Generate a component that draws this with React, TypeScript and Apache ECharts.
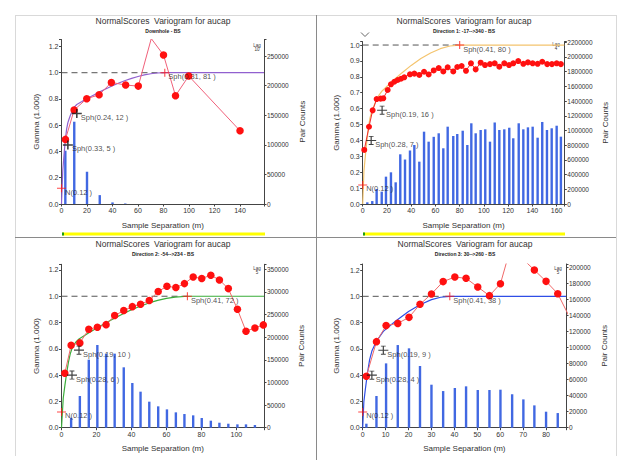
import { useEffect, useRef } from "react";
import * as echarts from "echarts";

const FONT = "'Liberation Sans', Arial, sans-serif";

// ---------- text ----------
const titleText = "NormalScores  Variogram for aucap";
const subtitles = ["Downhole - BS", "Direction 1: -17-->340 - BS", "Direction 2: -54-->234 - BS", "Direction 3: 30-->260 - BS"];
const lagLabels = ["Lag\n10", "Lag\n4", "Lag\n5", "Lag\n5"];
const xName = "Sample Separation (m)";
const gammaName = "Gamma (1.000)";
const pairName = "Pair Counts";

// ---------- panel 1 : Downhole ----------
const p1LagX = [3, 10, 20, 30, 40, 50];
const p1Pairs = [90000, 139000, 54500, 15000, 2700, 900];
const p1GammaX = [3.1, 9.9, 19.8, 29.5, 39.1, 50.3, 60.2, 70.4, 80, 89.4, 99.8, 140];
const p1Gamma = [0.492, 0.716, 0.802, 0.832, 0.926, 0.906, 0.898, 1.26, 1.135, 0.825, 0.975, 0.558];
const p1ModelX = [0, 1, 2, 3, 4, 5, 6, 7, 8, 9, 10, 12, 16, 20, 25, 30, 35, 40, 45, 50, 55, 60, 65, 70, 75, 81, 158.8];
const p1Model = [0, 0.253, 0.378, 0.487, 0.57, 0.62, 0.649, 0.676, 0.7, 0.721, 0.738, 0.758, 0.78, 0.803, 0.829, 0.854, 0.878, 0.901, 0.922, 0.941, 0.957, 0.971, 0.983, 0.992, 0.998, 1.0, 1.0];
const p1StructX = [0, 5, 12, 81];
const p1StructY = [0.12, 0.45, 0.69, 1.0];
const p1StructLabel = ["N(0.12 )", "Sph(0.33, 5 )", "Sph(0.24, 12 )", "Sph(0.31, 81 )"];

// ---------- panel 2 : Direction 1 ----------
const p2LagX = [3.8, 7.9, 11.5, 15.7, 19.2, 23.3, 27.2, 31, 34.9, 39, 42.6, 46.7, 50.6, 54.4, 58.6, 62.7, 66.5, 70.1, 74.7, 78, 82.5, 86.3, 89.6, 93.2, 97.3, 101.1, 105, 108.9, 112.7, 116.8, 120.9, 124.2, 128.7, 132.5, 136.3, 140.2, 144.3, 148.1, 152, 155.9, 160, 163.5];
const p2Pairs = [23000, 40000, 204000, 168000, 372000, 431000, 295000, 676000, 605000, 728000, 803000, 576000, 984000, 848000, 914000, 962000, 758000, 1052000, 925000, 952000, 997000, 803000, 1098000, 962000, 1007000, 1016000, 848000, 1109000, 1007000, 1016000, 1038000, 894000, 1098000, 1016000, 1043000, 1052000, 902000, 1116000, 1007000, 1030000, 1065000, 916000];
const p2GammaX = [1.3, 5.2, 8.2, 11.5, 14.8, 17, 20.6, 23.3, 26.1, 28.9, 31.6, 34.3, 39, 42.6, 46.7, 50.6, 54.4, 58.6, 62.7, 66.5, 70.1, 74.7, 78, 81.6, 85.2, 89.3, 93.2, 97.3, 100.9, 105, 108.9, 112.7, 116.8, 120.7, 124.2, 128.3, 132.5, 136.3, 140.2, 144.3, 148.1, 152.2, 156.1, 160, 163.5];
const p2Gamma = [0.34, 0.486, 0.589, 0.66, 0.663, 0.665, 0.717, 0.753, 0.769, 0.78, 0.788, 0.797, 0.816, 0.82, 0.812, 0.832, 0.815, 0.84, 0.855, 0.834, 0.86, 0.834, 0.862, 0.868, 0.838, 0.885, 0.847, 0.889, 0.874, 0.88, 0.885, 0.864, 0.885, 0.874, 0.885, 0.899, 0.882, 0.891, 0.885, 0.882, 0.895, 0.88, 0.88, 0.885, 0.88];
const p2ModelX = [0, 1, 2, 3, 4, 5, 6, 7, 10, 13, 16, 24, 32, 40, 48, 56, 64, 72, 80, 166.3];
const p2Model = [0, 0.205, 0.288, 0.365, 0.434, 0.494, 0.54, 0.57, 0.631, 0.68, 0.711, 0.769, 0.823, 0.872, 0.915, 0.95, 0.977, 0.994, 1.0, 1.0];
const p2StructX = [0, 7, 16, 80];
const p2StructY = [0.12, 0.4, 0.59, 1.0];
const p2StructLabel = ["N(0.12 )", "Sph(0.28, 7 )", "Sph(0.19, 16 )", "Sph(0.41, 80 )"];

// ---------- panel 3 : Direction 2 ----------
const p3LagX = [5.5, 10.5, 15.6, 20.5, 25.5, 30.4, 35.6, 40.5, 45.2, 50.2, 55.3, 60.3, 65.4, 70.3, 75.3, 80.2, 85.4, 90.3, 95.4, 100.6, 105.5, 110.6];
const p3Pairs = [22000, 70000, 150300, 182700, 163600, 163600, 133400, 98700, 79600, 57500, 47200, 40500, 33900, 30200, 27300, 21400, 15500, 11000, 8800, 7400, 7400, 5900];
const p3GammaX = [1.9, 5.5, 10.5, 15.6, 20.5, 25.5, 30.4, 35.6, 40.5, 45.2, 50.2, 55.3, 60.3, 65.4, 70.3, 75.3, 80.2, 85.4, 90.3, 95.4, 100.6, 105.5, 110.6, 115.4];
const p3Gamma = [0.414, 0.627, 0.645, 0.749, 0.764, 0.784, 0.853, 0.891, 0.921, 0.939, 0.967, 1.036, 1.076, 1.066, 1.096, 1.147, 1.135, 1.16, 1.124, 1.058, 0.901, 0.734, 0.759, 0.782];
const p3ModelX = [0, 1, 2, 3, 4, 5, 6, 8, 10, 15, 20, 25, 30, 35, 40, 45, 50, 55, 60, 65, 72, 115.8];
const p3Model = [0, 0.226, 0.328, 0.421, 0.501, 0.562, 0.602, 0.648, 0.675, 0.716, 0.756, 0.795, 0.831, 0.865, 0.897, 0.924, 0.949, 0.968, 0.984, 0.994, 1.0, 1.0];
const p3StructX = [0, 6, 10, 72];
const p3StructY = [0.12, 0.4, 0.59, 1.0];
const p3StructLabel = ["N(0.12 )", "Sph(0.28, 6 )", "Sph(0.19, 10 )", "Sph(0.41, 72 )"];

// ---------- panel 4 : Direction 3 ----------
const p4LagX = [1.6, 6.0, 10.2, 15.3, 20.2, 25.0, 30.0, 35.1, 40.2, 45.1, 50.2, 55.3, 60.1, 65.2, 70.1, 74.9, 80, 85.1];
const p4Pairs = [5000, 39600, 80400, 103300, 99200, 77100, 53750, 45800, 49600, 51700, 47100, 47100, 47500, 41700, 35400, 27900, 20000, 18300];
const p4GammaX = [1.6, 6.0, 10.2, 15.3, 20.2, 25.0, 30.0, 35.1, 40.2, 45.1, 50.2, 55.3, 60.1, 65.2, 70.1, 74.9, 80, 85.1, 90];
const p4Gamma = [0.391, 0.655, 0.777, 0.794, 0.84, 0.939, 1.018, 1.112, 1.147, 1.137, 1.071, 1.005, 1.096, 1.41, 1.28, 1.2, 1.114, 1.02, 0.85];
const p4ModelX = [0, 0.5, 1, 2, 3, 4, 6, 9, 12, 15, 20, 25, 30, 34, 38, 88.7];
const p4Model = [0, 0.196, 0.271, 0.407, 0.516, 0.583, 0.658, 0.733, 0.778, 0.82, 0.884, 0.936, 0.975, 0.993, 1.0, 1.0];
const p4StructX = [0, 4, 9, 38];
const p4StructY = [0.12, 0.4, 0.59, 1.0];
const p4StructLabel = ["N(0.12 )", "Sph(0.28, 4 )", "Sph(0.19, 9 )", "Sph(0.41, 38 )"];

const sillValue = 1.0;

// ---------- axis ranges ----------
const xMax = [158.8, 166.3, 115.8, 88.7];
const xInterval = [20, 20, 20, 10];
const gMax = [1.253, 1.021, 1.243, 1.246];
const gInterval = [0.2, 0.1, 0.2, 0.2];
const pMax = [277900, 2208000, 361000, 204600];
const pInterval = [50000, 200000, 50000, 20000];

// ---------- layout / style ----------
const grids = [
  { left: 61.5, top: 39.5, width: 202.5, height: 164.5 },
  { left: 362.7, top: 41.7, width: 201.6, height: 162.3 },
  { left: 61.5, top: 264.3, width: 202.5, height: 163.4 },
  { left: 362.7, top: 264, width: 203.3, height: 163.7 },
];
const titlePos = [
  { x: 163, y: 16.5 },
  { x: 464, y: 16.5 },
  { x: 163, y: 239.5 },
  { x: 465, y: 239.5 },
];
const gammaGap = [21, 22.5, 21, 22.5];
const pairGap = [34, 37.5, 33.5, 34.5];
const modelColors = ["#9160cf", "#f4c46e", "#3aad3a", "#2f4ee6"];
const expLineColors = ["#f0607a", "#f02a2a", "#f06868", "#f06868"];
const pointSize = [7.5, 6, 7.5, 7.5];
const lagPos = [
  { x: 257, y: 43 },
  { x: 556, y: 42 },
  { x: 257, y: 266 },
  { x: 558, y: 266 },
];
const BLUE = "#4168e2";
const PLUS = "path://M0,4.4H10V5.6H0Z M4.4,0H5.6V10H4.4Z";
const PLUS_BOLD = "path://M0,4.2H10V5.8H0Z M4.2,0H5.8V10H4.2Z";
const IBEAM = "path://M0,4.4H10V5.6H0Z M4.4,0H5.6V10H4.4Z M2.6,0H7.4V1H2.6Z M2.6,9H7.4V10H2.6Z";

const panels = [
  { lagX: p1LagX, pairs: p1Pairs, gx: p1GammaX, gy: p1Gamma, mx: p1ModelX, my: p1Model, sx: p1StructX, sy: p1StructY, sl: p1StructLabel, bold: true },
  { lagX: p2LagX, pairs: p2Pairs, gx: p2GammaX, gy: p2Gamma, mx: p2ModelX, my: p2Model, sx: p2StructX, sy: p2StructY, sl: p2StructLabel, bold: false },
  { lagX: p3LagX, pairs: p3Pairs, gx: p3GammaX, gy: p3Gamma, mx: p3ModelX, my: p3Model, sx: p3StructX, sy: p3StructY, sl: p3StructLabel, bold: false },
  { lagX: p4LagX, pairs: p4Pairs, gx: p4GammaX, gy: p4Gamma, mx: p4ModelX, my: p4Model, sx: p4StructX, sy: p4StructY, sl: p4StructLabel, bold: false },
];

const onStep = (v: number, iv: number) => Math.abs(v / iv - Math.round(v / iv)) < 1e-6;

const axisCommon = {
  axisLine: { show: true, lineStyle: { color: "#444", width: 1 } },
  axisTick: { show: true, length: 2.5, lineStyle: { color: "#444" } },
  splitLine: { show: false },
  nameTextStyle: { fontSize: 8, color: "#333", fontFamily: FONT },
};

function buildOption() {
  const xAxis: any[] = [];
  const yAxis: any[] = [];
  const series: any[] = [];
  const title: any[] = [];

  panels.forEach((p, i) => {
    const xi = xInterval[i];
    xAxis.push({
      ...axisCommon,
      type: "value",
      gridIndex: i,
      min: 0,
      max: xMax[i],
      interval: xi,
      name: xName,
      nameLocation: "middle",
      nameGap: 17,
      axisLabel: {
        fontSize: 7,
        color: "#333",
        fontFamily: FONT,
        margin: 3,
        formatter: (v: number) => (onStep(v, xi) ? String(Math.round(v)) : ""),
      },
    });
    const gi = gInterval[i];
    yAxis.push({
      ...axisCommon,
      type: "value",
      gridIndex: i,
      position: "left",
      min: 0,
      max: gMax[i],
      interval: gi,
      name: gammaName,
      nameLocation: "middle",
      nameGap: gammaGap[i],
      axisLabel: {
        fontSize: 7,
        color: "#333",
        fontFamily: FONT,
        margin: 3,
        formatter: (v: number) => (onStep(v, gi) ? v.toFixed(1) : ""),
      },
    });
    const pi = pInterval[i];
    yAxis.push({
      ...axisCommon,
      type: "value",
      gridIndex: i,
      position: "right",
      min: 0,
      max: pMax[i],
      interval: pi,
      name: pairName,
      nameLocation: "middle",
      nameGap: pairGap[i],
      axisLabel: {
        fontSize: 6.5,
        color: "#333",
        fontFamily: FONT,
        margin: 3,
        formatter: (v: number) => (onStep(v, pi) ? String(Math.round(v)) : ""),
      },
    });

    title.push({
      text: titleText,
      subtext: subtitles[i],
      left: titlePos[i].x,
      top: titlePos[i].y,
      textAlign: "center",
      padding: 0,
      itemGap: 3,
      textStyle: { fontSize: 8.5, fontWeight: "normal", color: "#333", fontFamily: FONT },
      subtextStyle: { fontSize: 5, fontWeight: "bold", color: "#222", fontFamily: FONT },
    });

    series.push({
      type: "bar",
      xAxisIndex: i,
      yAxisIndex: 2 * i + 1,
      barWidth: 2.4,
      itemStyle: { color: BLUE },
      data: p.lagX.map((x, k) => [x, p.pairs[k]]),
      z: 1,
      silent: true,
    });
    const range = p.sx[p.sx.length - 1];
    series.push({
      type: "line",
      xAxisIndex: i,
      yAxisIndex: 2 * i,
      symbol: "none",
      lineStyle: { color: "#555", width: 1, type: [6, 4] },
      data: [
        [0, sillValue],
        [range, sillValue],
      ],
      z: 2,
      silent: true,
    });
    series.push({
      type: "line",
      xAxisIndex: i,
      yAxisIndex: 2 * i,
      symbol: "none",
      lineStyle: { color: modelColors[i], width: 1.2 },
      data: p.mx.map((x, k) => [x, p.my[k]]),
      z: 3,
      silent: true,
    });
    series.push({
      type: "line",
      xAxisIndex: i,
      yAxisIndex: 2 * i,
      symbol: "circle",
      symbolSize: pointSize[i],
      showAllSymbol: true,
      lineStyle: { color: expLineColors[i], width: 1 },
      itemStyle: { color: "#ff1010", borderWidth: 0 },
      data: p.gx.map((x, k) => [x, p.gy[k]]),
      z: 4,
      silent: true,
    });
    const last = p.sx.length - 1;
    series.push({
      type: "scatter",
      xAxisIndex: i,
      yAxisIndex: 2 * i,
      clip: false,
      z: 6,
      silent: true,
      data: p.sx.map((x, k) => {
        const isRed = k === 0 || k === last;
        return {
          value: [x, p.sy[k]],
          symbol: isRed ? PLUS : p.bold ? PLUS_BOLD : IBEAM,
          symbolSize: isRed ? [9, 8] : [10, 9],
          itemStyle: { color: isRed ? "#ff1a1a" : "#111" },
          label: {
            show: true,
            formatter: p.sl[k],
            position: "right",
            distance: 0,
            offset: [-1, 4],
            fontSize: 7.5,
            color: "#222",
            fontFamily: FONT,
          },
        };
      }),
    });
  });

  const frame = "#d9d9d9";
  const divider = "#8a8a8a";
  const graphic: any[] = [
    { type: "line", shape: { x1: 15.5, y1: 15, x2: 15.5, y2: 456 }, style: { stroke: frame, lineWidth: 1 } },
    { type: "line", shape: { x1: 15, y1: 15.5, x2: 616, y2: 15.5 }, style: { stroke: frame, lineWidth: 1 } },
    { type: "line", shape: { x1: 616.5, y1: 15, x2: 616.5, y2: 456 }, style: { stroke: frame, lineWidth: 1 } },
    { type: "line", shape: { x1: 316.5, y1: 15, x2: 316.5, y2: 460 }, style: { stroke: divider, lineWidth: 1 } },
    { type: "line", shape: { x1: 15, y1: 237.5, x2: 616, y2: 237.5 }, style: { stroke: divider, lineWidth: 1 } },
    { type: "rect", shape: { x: 62, y: 232.5, width: 203, height: 3 }, style: { fill: "#ffff00" } },
    { type: "rect", shape: { x: 363, y: 232.5, width: 202, height: 3 }, style: { fill: "#ffff00" } },
    { type: "rect", shape: { x: 62, y: 232.5, width: 2, height: 3 }, style: { fill: "#1a9a1a" } },
    { type: "rect", shape: { x: 363, y: 232.5, width: 2, height: 3 }, style: { fill: "#1a9a1a" } },
    { type: "polyline", shape: { points: [[361, 32.5], [365, 36.5], [369, 32.5]] }, style: { stroke: "#666", lineWidth: 1, fill: "none" } },
  ];
  lagLabels.forEach((t, i) => {
    graphic.push({
      type: "text",
      x: lagPos[i].x,
      y: lagPos[i].y,
      style: { text: t, fontSize: 4.5, fill: "#333", align: "center", fontFamily: FONT, lineHeight: 4.5 },
    });
  });

  return {
    animation: false,
    backgroundColor: "#ffffff",
    title,
    grid: grids.map((g) => ({ ...g, containLabel: false })),
    xAxis,
    yAxis,
    series,
    graphic,
  };
}

export default function App() {
  const ref = useRef<HTMLDivElement>(null);
  useEffect(() => {
    const chart = echarts.init(ref.current as HTMLDivElement, null, { renderer: "svg" });
    chart.setOption(buildOption() as any);
    return () => chart.dispose();
  }, []);
  return (
    <div
      ref={ref}
      style={{ position: "fixed", left: 0, top: 0, width: 631, height: 470, background: "#fff" }}
    />
  );
}
